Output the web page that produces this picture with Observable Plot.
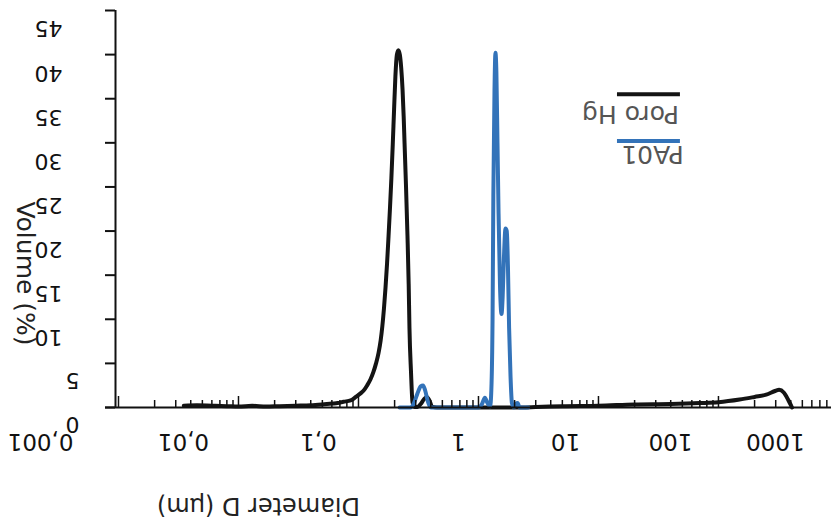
<!DOCTYPE html>
<html><head><meta charset="utf-8">
<script src="https://cdn.jsdelivr.net/npm/d3@7"></script>
<script src="https://cdn.jsdelivr.net/npm/@observablehq/plot@0.6"></script>
<style>body{margin:0;background:#fff;} svg{display:block;}</style>
</head><body><div id="chart"></div>
<script>
// Poro Hg (mercury porosimetry): diameter (µm) and volume (%)
const poroD = [0.0035,0.0045,0.006,0.008,0.01,0.013,0.017,0.022,0.03,0.04,0.05,0.06,0.067,0.075,0.086,0.095,0.104,0.11,0.118,0.126,0.133,0.14,0.147,0.153,0.158,0.163,0.168,0.173,0.178,0.183,0.188,0.193,0.198,0.203,0.209,0.215,0.221,0.227,0.233,0.238,0.242,0.249,0.256,0.262,0.266,0.274,0.282,0.295,0.31,0.33,0.35,0.37,0.39,0.41,0.45,0.6,1,2,3,5,10,20,40,70,100,150,200,250,300,320,350,380,410];
const poroV = [0.2,0.25,0.2,0.15,0.1,0.2,0.1,0.15,0.2,0.25,0.35,0.45,0.5,0.65,0.8,1.2,1.6,1.9,2.5,3.2,4.0,5.0,6.2,7.6,9.2,11.2,13.6,16.3,19.4,22.6,26,29.8,33.8,37.5,40.0,40.5,40,38.5,36,33,30,25,19.5,14,9,4,0.6,0.05,0.05,0.4,0.9,1.2,0.8,0.1,0,0,0,0,0.05,0.15,0.2,0.35,0.4,0.5,0.6,0.9,1.2,1.45,1.9,2.0,1.7,0.9,0];
// PA01 (laser granulometry)
const pa01D = [0.22,0.27,0.29,0.31,0.33,0.345,0.36,0.38,0.40,0.45,0.6,0.8,1.0,1.07,1.13,1.19,1.25,1.28,1.31,1.33,1.36,1.385,1.41,1.44,1.47,1.51,1.555,1.59,1.63,1.68,1.72,1.76,1.8,1.85,1.9,1.97,2.05,2.12,2.2,2.6];
const pa01V = [0,0,0.5,1.6,2.4,2.5,1.9,0.6,0,0,0,0,0,0.4,1.1,0.5,0.1,2,10,24,36,40.2,38,30,22,14,10.6,12.5,17,20.3,20,16,9,3.5,0.5,0,0.4,0.5,0,0];

const seriesNames = ["Poro Hg", "PA01"];
const seriesColors = ["#141414", "#3373b9"];
const yTickValues = [0,5,10,15,20,25,30,35,40,45];
const xTickLabels = ["0,001","0,01","0,1","1","10","100","1000"];
const xTickLabelAt = [0.000224, 0.00348, 0.0464, 0.681, 5.31, 39.8, 298];
const xDomain = [0.001, 875];
const xTitle = "Diameter D (µm)";
const yTitle = "Volume (%)";

const poro = poroD.map((d, i) => ({d, v: poroV[i]}));
const pa01 = pa01D.map((d, i) => ({d, v: pa01V[i]}));
const decades = [0.001,0.01,0.1,1,10,100];
const minors = [];
for (const dec of decades) for (let k = 2; k <= 9; k++) if (dec * k <= xDomain[1]) minors.push(dec * k);

const legend = [
  {name: seriesNames[0], color: seriesColors[0], y: 35.5, ty: 33.3, tx: 18.5},
  {name: seriesNames[1], color: seriesColors[1], y: 30.2, ty: 28.7, tx: 28.2}
];

const font = "DejaVu Sans";
const mid = {textAnchor: "middle", lineAnchor: "middle"};
const plot = Plot.plot({
  width: 831, height: 522,
  marginLeft: 115, marginRight: 0, marginTop: 10, marginBottom: 115,
  style: {background: "#fff", fontFamily: font},
  x: {type: "log", domain: xDomain, range: [118, 831], axis: null},
  y: {domain: [0, 45], axis: null},
  marks: [
    Plot.line(poro, {x: "d", y: "v", stroke: seriesColors[0], strokeWidth: 4, curve: "monotone-x"}),
    Plot.line(pa01, {x: "d", y: "v", stroke: seriesColors[1], strokeWidth: 4, curve: "monotone-x"}),
    Plot.ruleY([0], {insetLeft: -10, stroke: "#111", strokeWidth: 2}),
    Plot.ruleX([xDomain[0]], {dx: -3, y1: 0, y2: 45, stroke: "#111", strokeWidth: 2}),
    Plot.axisY({ticks: yTickValues, tickSize: 10, tickFormat: () => "", label: null, strokeWidth: 2, stroke: "#111"}),
    Plot.tickX(minors, {insetTop: 390, stroke: "#111", strokeWidth: 1.5}),
    Plot.tickX(decades, {insetTop: 386, stroke: "#111", strokeWidth: 1.5}),
    Plot.text(yTickValues.filter(v => v >= 10), {...mid, y: d => d, text: d => String(d), frameAnchor: "left", dx: -67, dy: 18, rotate: 180, fontSize: 22, fill: "#111"}),
    Plot.text(yTickValues.filter(v => v < 10), {...mid, y: d => d, text: d => String(d), frameAnchor: "left", dx: -43, dy: 17, rotate: 180, fontSize: 22, fill: "#111"}),
    Plot.text(xTickLabels, {...mid, x: (d, i) => xTickLabelAt[i], text: d => d, frameAnchor: "bottom", dy: 34, rotate: 180, fontSize: 23, fill: "#111"}),
    Plot.text([xTitle], {...mid, text: d => d, frameAnchor: "bottom-left", dx: 143, dy: 98, rotate: 180, fontSize: 24, fill: "#222"}),
    Plot.text([yTitle], {...mid, text: d => d, frameAnchor: "left", dx: -91, dy: 64.5, rotate: 90, fontSize: 25, fill: "#222"}),
    Plot.ruleY(legend, {y: "y", x1: 14.4, x2: 48.2, stroke: "color", strokeWidth: 4}),
    Plot.text(legend, {...mid, x: "tx", y: "ty", text: "name", rotate: 180, fontSize: 25, fill: "#555"})
  ]
});
document.getElementById("chart").appendChild(plot);
</script>
</body></html>
